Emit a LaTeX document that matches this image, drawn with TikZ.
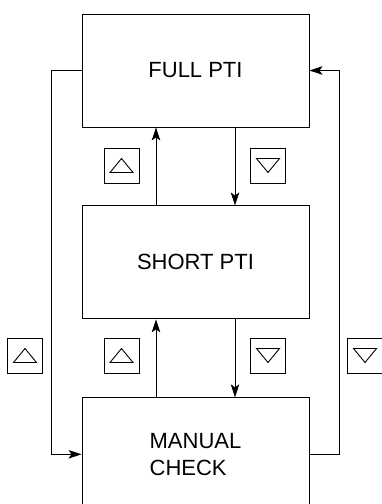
\documentclass[tikz,border=0pt]{standalone}
\usepackage{fontspec}
\setmainfont{Liberation Sans}
\usetikzlibrary{calc,arrows.meta,positioning}

\begin{document}
\begin{tikzpicture}[x=1pt, y=-1pt, >={Stealth[length=13pt,width=8.5pt,inset=3pt]}, line width=0.9pt,
    modebox/.style={draw, rectangle, minimum width=227pt, minimum height=113pt,
      inner sep=0pt, align=left, font=\fontsize{22}{27}\selectfont},
    keybox/.style={draw, rectangle, minimum size=35pt, inner sep=0pt}]
    \useasboundingbox (0,0) rectangle (381,504);
    % cajas de modo
    \node[modebox] (full) at (195.5,70.5) {FULL PTI};
    \node[modebox, below=78pt of full] (short) {SHORT PTI};
    \node[modebox, below=78pt of short] (manual) {MANUAL\\CHECK};
    % teclas
    \node[keybox] (upA) at (121.5,165.5) {};
    \node[keybox] (downA) at (268,165.5) {};
    \node[keybox] (upB) at (121.5,355.5) {};
    \node[keybox] (downB) at (268,355.5) {};
    \node[keybox] (upC) at (25,355.5) {};
    \node[keybox] (downC) at (365,355.5) {};
    \foreach \k in {upA,upB,upC}
      \draw ($(\k)+(-11.5,7)$) -- ($(\k)+(11.5,7)$) -- ($(\k)+(0,-7)$) -- cycle;
    \foreach \k in {downA,downB,downC}
      \draw ($(\k)+(-11.5,-7)$) -- ($(\k)+(11.5,-7)$) -- ($(\k)+(0,7)$) -- cycle;
    % flechas verticales
    \draw[->] ([xshift=-39.5pt]short.north) -- ([xshift=-39.5pt]full.south);
    \draw[->] ([xshift=39.5pt]full.south) -- ([xshift=39.5pt]short.north);
    \draw[->] ([xshift=-39.5pt]manual.north) -- ([xshift=-39.5pt]short.south);
    \draw[->] ([xshift=39.5pt]short.south) -- ([xshift=39.5pt]manual.north);
    % retornos laterales
    \draw[->] (full.west) -- ++(-30pt,0) |- (manual.west);
    \draw[->] (manual.east) -- ++(30pt,0) |- (full.east);
\end{tikzpicture}
\end{document}
